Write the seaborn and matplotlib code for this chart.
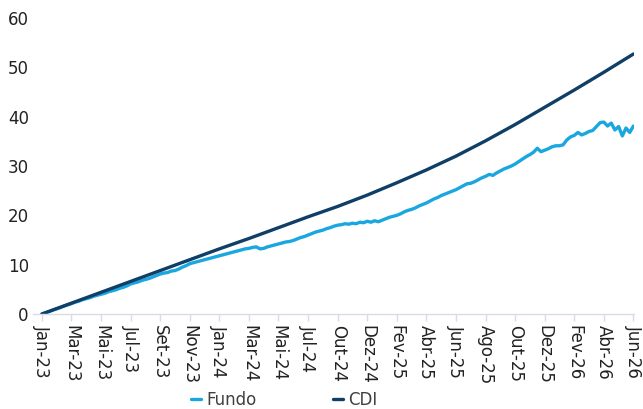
import numpy as np
import pandas as pd
import matplotlib
matplotlib.use("Agg")
import matplotlib.pyplot as plt
import seaborn as sns

# Tick labels (category axis, one label every 8 fund observations)
tick_labels = ["Jan-23", "Mar-23", "Mai-23", "Jul-23", "Set-23", "Nov-23",
               "Jan-24", "Mar-24", "Mai-24", "Jul-24", "Out-24", "Dez-24",
               "Fev-25", "Abr-25", "Jun-25", "Ago-25", "Out-25", "Dez-25",
               "Fev-26", "Abr-26", "Jun-26"]

# CDI cumulative return (%) at each labelled point
cdi_values = [0.0, 2.2, 4.4, 6.6, 8.8, 11.0, 13.2, 15.3, 17.5, 19.7, 21.8,
              24.1, 26.6, 29.2, 32.0, 35.1, 38.4, 41.9, 45.4, 49.0, 52.7]

# Fund cumulative return (%), 8 observations per label interval
fundo_values = [
    0.0, 0.25, 0.5, 0.8, 1.05, 1.3, 1.6, 1.85,
    2.1, 2.4, 2.6, 2.9, 3.1, 3.3, 3.6, 3.8,
    4.0, 4.2, 4.5, 4.7, 4.9, 5.2, 5.4, 5.7,
    6.1, 6.3, 6.5, 6.8, 7.0, 7.2, 7.5, 7.8,
    8.1, 8.3, 8.4, 8.7, 8.8, 9.1, 9.5, 9.8,
    10.2, 10.4, 10.6, 10.8, 11.0, 11.2, 11.4, 11.6,
    11.8, 12.0, 12.2, 12.4, 12.6, 12.8, 13.0, 13.2,
    13.3, 13.5, 13.6, 13.2, 13.3, 13.6, 13.8, 14.0,
    14.2, 14.4, 14.6, 14.7, 14.9, 15.2, 15.5, 15.7,
    16.0, 16.3, 16.6, 16.8, 17.0, 17.3, 17.5, 17.8,
    18.0, 18.1, 18.3, 18.2, 18.4, 18.3, 18.6, 18.5,
    18.8, 18.6, 18.9, 18.7, 19.0, 19.3, 19.6, 19.8,
    20.0, 20.3, 20.7, 21.0, 21.2, 21.5, 21.9, 22.2,
    22.5, 22.9, 23.3, 23.6, 24.0, 24.3, 24.6, 24.9,
    25.2, 25.6, 26.0, 26.4, 26.5, 26.8, 27.2, 27.6,
    27.9, 28.3, 28.1, 28.6, 29.0, 29.4, 29.7, 30.0,
    30.4, 30.9, 31.4, 31.9, 32.3, 32.8, 33.6, 32.9,
    33.2, 33.5, 33.9, 34.1, 34.1, 34.3, 35.3, 35.9,
    36.2, 36.8, 36.3, 36.6, 37.0, 37.2, 38.0, 38.8,
    38.9, 38.1, 38.7, 37.3, 38.0, 36.1, 37.7, 36.8,
    38.1,
]

obs_per_label = 8

sns.set_style("white")
plt.rcParams["font.family"] = ["DejaVu Sans"]

fig = plt.figure(figsize=(6.43, 4.09), dpi=100)
ax = fig.add_axes([33 / 643, 95 / 409, 601 / 643, 296 / 409])

fundo_df = pd.DataFrame({"x": np.arange(len(fundo_values)) / obs_per_label,
                         "y": fundo_values})
cdi_df = pd.DataFrame({"x": np.arange(len(cdi_values)), "y": cdi_values})

sns.lineplot(data=fundo_df, x="x", y="y", ax=ax, color="#1AA7E0",
             linewidth=2.4, label="Fundo")
sns.lineplot(data=cdi_df, x="x", y="y", ax=ax, color="#0F3E66",
             linewidth=2.4, label="CDI")

ax.set_xlim(-0.3, len(tick_labels) - 1 + 0.02)
ax.set_ylim(0, 60)
ax.set_yticks(np.arange(0, 61, 10))
ax.set_xticks(np.arange(len(tick_labels)))
ax.set_xticklabels(tick_labels, rotation=-90, va="top", ha="center")
ax.set_xlabel("")
ax.set_ylabel("")

for s in ["left", "top", "right"]:
    ax.spines[s].set_visible(False)
ax.spines["bottom"].set_color("#D9DBE8")
ax.spines["bottom"].set_linewidth(1.0)

ax.tick_params(axis="x", length=5, width=1.0, color="#D9DBE8", pad=3,
               labelsize=12, labelcolor="#222222", bottom=True)
ax.tick_params(axis="y", length=0, pad=3, labelsize=12, labelcolor="#222222")

ax.get_legend().remove()
handles, labels = ax.get_legend_handles_labels()
fig.legend(handles, labels, loc="center", bbox_to_anchor=(0.442, 0.022),
           ncol=2, frameon=False, fontsize=12, handlelength=0.6,
           handletextpad=0.3, columnspacing=4.6, labelcolor="#404040")

fig.savefig("out.png", dpi=100)
